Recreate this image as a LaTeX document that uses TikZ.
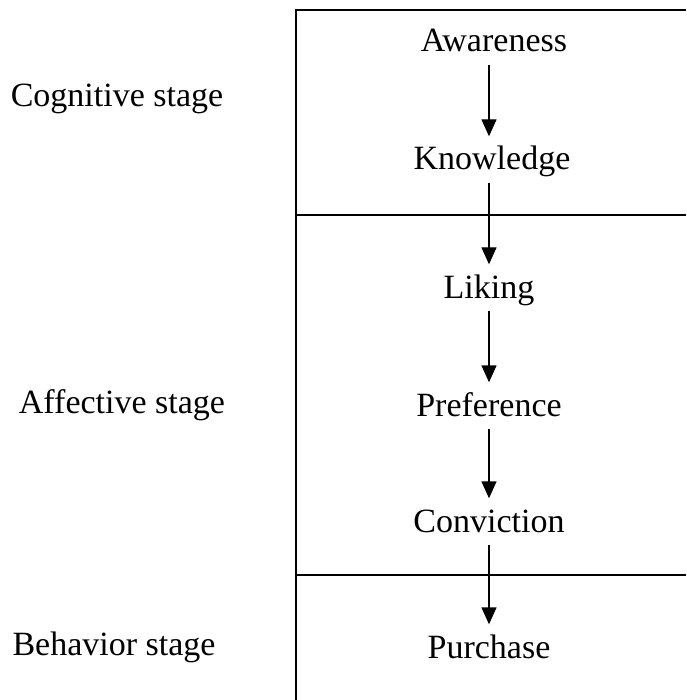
\documentclass[tikz,border=0pt]{standalone}
\usepackage{fontspec}
\setmainfont{Liberation Serif}
\usetikzlibrary{arrows.meta}

\begin{document}
\begin{tikzpicture}[x=1pt,y=-1pt,line width=1.4pt]

        \useasboundingbox (0,0) rectangle (686,700);

        % frame and stage dividers
        \draw (686,10) -- (296,10) -- (296,700);
        \draw (296,215) -- (686,215);
        \draw (296,575) -- (686,575);

        \begin{scope}[every node/.style={anchor=base, font=\fontsize{34}{40}\selectfont,
            text height=24pt, text depth=8pt, inner xsep=2pt, inner ysep=4pt}]
          \node (aw) at (494,52)  {Awareness};
          \node (kn) at (492,170) {Knowledge};
          \node (li) at (489,298) {Liking};
          \node (pr) at (489,416) {Preference};
          \node (co) at (489,532) {Conviction};
          \node (pu) at (489,658) {Purchase};

          \node (cog) at (117,107) {Cognitive stage};
          \node (aff) at (122,413) {Affective stage};
          \node (beh) at (114,655) {Behavior stage};
        \end{scope}

        \begin{scope}[every edge/.style={draw, -{Triangle[length=17pt,width=15pt]}, shorten >=5pt}]
          \path (aw.south -| li) edge (kn.north -| li);
          \path (kn.south -| li) edge (li);
          \path (li) edge (pr);
          \path (pr) edge (co);
          \path (co) edge (pu);
        \end{scope}

      \end{tikzpicture}
\end{document}
